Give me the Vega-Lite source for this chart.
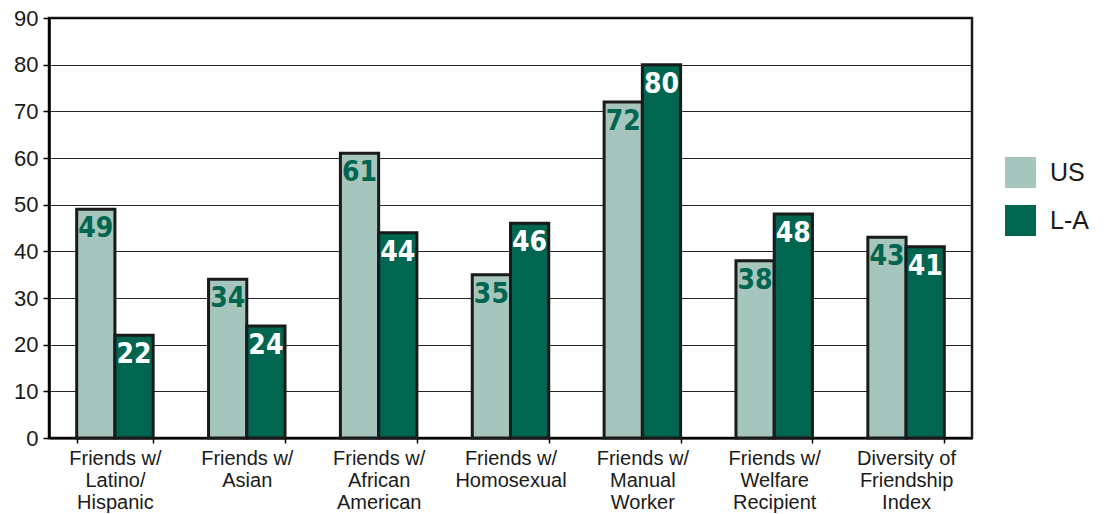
{
  "$schema": "https://vega.github.io/schema/vega-lite/v6.json",
  "autosize": "none",
  "width": 923,
  "height": 420,
  "padding": {"left": 49, "top": 18, "right": 136, "bottom": 76},
  "background": "white",
  "data": {
    "values": [
      {"cat": "Friends w/|Latino/|Hispanic", "series": "US", "value": 49},
      {"cat": "Friends w/|Latino/|Hispanic", "series": "L-A", "value": 22},
      {"cat": "Friends w/|Asian", "series": "US", "value": 34},
      {"cat": "Friends w/|Asian", "series": "L-A", "value": 24},
      {"cat": "Friends w/|African|American", "series": "US", "value": 61},
      {"cat": "Friends w/|African|American", "series": "L-A", "value": 44},
      {"cat": "Friends w/|Homosexual", "series": "US", "value": 35},
      {"cat": "Friends w/|Homosexual", "series": "L-A", "value": 46},
      {"cat": "Friends w/|Manual|Worker", "series": "US", "value": 72},
      {"cat": "Friends w/|Manual|Worker", "series": "L-A", "value": 80},
      {"cat": "Friends w/|Welfare|Recipient", "series": "US", "value": 38},
      {"cat": "Friends w/|Welfare|Recipient", "series": "L-A", "value": 48},
      {"cat": "Diversity of|Friendship|Index", "series": "US", "value": 43},
      {"cat": "Diversity of|Friendship|Index", "series": "L-A", "value": 41}
    ]
  },
  "encoding": {
    "x": {
      "field": "cat",
      "type": "nominal",
      "sort": null,
      "scale": {"paddingInner": 0.42, "paddingOuter": 0.21},
      "axis": {
        "title": null,
        "labelAngle": 0,
        "labelExpr": "split(datum.label, '|')",
        "labelFont": "Liberation Sans",
        "labelFontSize": 20,
        "labelColor": "#1a1a1a",
        "labelLineHeight": 22,
        "labelPadding": 5,
        "tickBand": "extent",
        "tickColor": "black",
        "tickSize": 5,
        "tickWidth": 1.5,
        "domainColor": "black",
        "domainWidth": 2,
        "grid": false
      }
    },
    "xOffset": {"field": "series", "type": "nominal", "sort": ["US", "L-A"]},
    "y": {
      "field": "value",
      "type": "quantitative",
      "scale": {"domain": [0, 90]},
      "axis": {
        "title": null,
        "values": [0, 10, 20, 30, 40, 50, 60, 70, 80, 90],
        "labelFont": "Liberation Sans",
        "labelFontSize": 22,
        "labelColor": "#1a1a1a",
        "labelPadding": 5,
        "tickSize": 6,
        "tickColor": "black",
        "tickWidth": 1.5,
        "domainColor": "black",
        "domainWidth": 2.5,
        "grid": true,
        "gridColor": "black",
        "gridWidth": 1,
        "gridOpacity": 0.85
      }
    }
  },
  "layer": [
    {
      "mark": {"type": "bar", "stroke": "#1a1a1a", "strokeWidth": 3},
      "encoding": {
        "color": {
          "field": "series",
          "type": "nominal",
          "sort": ["US", "L-A"],
          "scale": {"domain": ["US", "L-A"], "range": ["#a6c5bc", "#00664f"]},
          "legend": {
            "title": null,
            "orient": "none",
            "legendX": 956,
            "legendY": 139,
            "symbolType": "square",
            "symbolSize": 960,
            "symbolStrokeWidth": 0,
            "symbolOpacity": 1,
            "labelFont": "Liberation Sans",
            "labelFontSize": 25,
            "labelColor": "#1a1a1a",
            "labelOffset": 14,
            "rowPadding": 17
          }
        }
      }
    },
    {
      "mark": {
        "type": "text",
        "baseline": "top",
        "align": "center",
        "dy": 6,
        "font": "Liberation Sans Narrow, DejaVu Sans Condensed, sans-serif",
        "fontWeight": "bold",
        "fontSize": 28
      },
      "encoding": {
        "text": {"field": "value", "type": "quantitative"},
        "color": {
          "condition": {"test": "datum.series === 'US'", "value": "#00664f"},
          "value": "white"
        }
      }
    }
  ],
  "config": {
    "view": {"stroke": "#1a1a1a", "strokeWidth": 2.5}
  }
}
